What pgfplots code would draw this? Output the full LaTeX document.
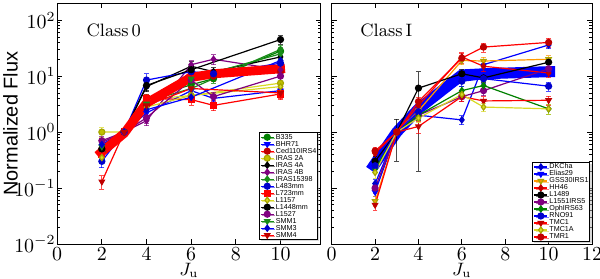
\documentclass[border=0pt]{standalone}
\usepackage{fontspec}
\usepackage{pgfplots}
\pgfplotsset{compat=1.18}
\usetikzlibrary{shadows}
\newfontfamily\helv{Liberation Sans}
\definecolor{dkgreen}{rgb}{0,0.5,0}
\definecolor{mgreen}{rgb}{0.1,0.55,0.1}
\definecolor{mpurple}{rgb}{0.5,0,0.5}
\definecolor{myellow}{rgb}{0.85,0.85,0.15}
\definecolor{olive}{rgb}{0.65,0.65,0}
\definecolor{dred}{rgb}{0.75,0,0}
\definecolor{morange}{rgb}{1,0.6,0}
\definecolor{dblue}{rgb}{0,0,0.8}

\pgfplotsset{
 mysrc/.style={/tikz/line width=0.6bp, /tikz/mark size=1.5bp,
   /pgfplots/error bars/y dir=both, /pgfplots/error bars/y explicit,
   /pgfplots/error bars/error bar style={line width=0.45bp, draw opacity=0.7},
   /pgfplots/error bars/error mark options={rotate=90, mark size=1.2bp, line width=0.45bp}},
}

\begin{document}
\begin{tikzpicture}
\useasboundingbox (0,0) rectangle (300bp,139.5bp);
% ---------------- Class 0 ----------------
\begin{axis}[scale only axis, height=120.35bp, ymode=log, ymin=0.01, ymax=200,
   xmin=0, xtick={0,2,...,12},
   tick label style={font=\fontsize{10}{12}\selectfont},
   xticklabel style={inner ysep=1.5bp},
   major tick length=2.5bp, minor tick length=1.3bp,
   axis line style={line width=0.5bp}, tick style={line width=0.4bp, black},
   yticklabel style={inner xsep=0.6bp},
   xlabel={$J_\mathrm{u}$},
   xlabel style={at={(axis description cs:0.5,-0.078)}, anchor=north, inner sep=0pt, font=\fontsize{9}{11}\selectfont},
   legend image code/.code={\draw[mark repeat=2,mark phase=2,#1] plot coordinates {(0bp,0bp) (3.3bp,0bp) (6.6bp,0bp)};},
   legend cell align=left,
   legend style={at={(1,0)}, anchor=south east, draw=black, line width=0.5bp, fill=white,
     inner sep=0.5bp, font=\helv\fontsize{3.6}{3.6}\selectfont,
     nodes={inner sep=0.2bp, text height=2.5bp, text depth=0.6bp},
     row sep=0pt, column sep=0.5bp, xshift=-1.2bp, yshift=1.9bp,
     drop shadow={shadow xshift=0.8bp, shadow yshift=-0.8bp, fill=black!30}},
  at={(28.6bp,17.5bp)}, anchor=south west, width=131.75bp, xmax=11.8,
  ylabel={Normalized Flux},
  ylabel style={at={(axis description cs:-0.177,0.5)}, anchor=center, font=\helv\fontsize{10}{12}\selectfont}]
\addplot[mysrc, dkgreen, mark=*] coordinates {(2,0.45)+-(0,0.08) (3,1)+-(0,0.1) (4,4.0)+-(0,0.7) (6,7.0)+-(0,1.2) (7,9)+-(0,1.5) (10,28)+-(0,5)};
\addlegendentry{B335}
\addplot[mysrc, blue, mark=triangle*, mark options={rotate=180}] coordinates {(2,0.55)+-(0,0.1) (3,1)+-(0,0.1) (4,2.2)+-(0,0.4) (6,5.5)+-(0,1) (7,4.0)+-(0,0.7) (10,5.5)+-(0,1)};
\addlegendentry{BHR71}
\addplot[mysrc, red, mark=*, mark options={fill=dred, draw=dred}] coordinates {(2,0.5)+-(0,0.1) (3,1)+-(0,0.1) (4,3.0)+-(0,0.5) (6,12)+-(0,2) (7,10)+-(0,2) (10,12)+-(0,2.5)};
\addlegendentry{Ced110IRS4}
\addplot[mysrc, myellow, mark=*, mark options={fill=olive!70!yellow, draw=olive}] coordinates {(2,1.0)+-(0,0.2) (3,1)+-(0,0.1) (4,3.8)+-(0,0.6) (6,4.5)+-(0,0.8) (10,7.5)+-(0,1.5)};
\addlegendentry{IRAS 2A}
\addplot[mysrc, black, mark=diamond*] coordinates {(2,0.4)+-(0,0.08) (3,1)+-(0,0.1) (4,6.5)+-(0,1.2) (6,15)+-(0,3) (7,12)+-(0,2) (10,22)+-(0,4)};
\addlegendentry{IRAS 4A}
\addplot[mysrc, mpurple, mark=diamond*] coordinates {(2,0.65)+-(0,0.1) (3,1)+-(0,0.1) (4,1.6)+-(0,0.3) (6,16)+-(0,3) (7,20)+-(0,4) (10,13)+-(0,3)};
\addlegendentry{IRAS 4B}
\addplot[mysrc, mgreen, mark=diamond*] coordinates {(2,0.38)+-(0,0.07) (3,1)+-(0,0.1) (4,3.5)+-(0,0.6) (6,6.0)+-(0,1) (10,30)+-(0,5)};
\addlegendentry{IRAS15398}
\addplot[mysrc, blue, mark=*, mark options={fill=dblue, draw=dblue}] coordinates {(2,0.3)+-(0,0.07) (3,1)+-(0,0.1) (4,8.5)+-(0,2.5) (6,12)+-(0,2) (7,11)+-(0,2) (10,17)+-(0,3)};
\addlegendentry{L483mm}
\addplot[mysrc, red, mark=square*, mark size=1.5bp] coordinates {(2,0.4)+-(0,0.08) (3,1)+-(0,0.1) (4,4.0)+-(0,0.7) (6,3.8)+-(0,0.8) (7,3.0)+-(0,0.6) (10,4.8)+-(0,1)};
\addlegendentry{L723mm}
\addplot[mysrc, myellow, mark=diamond*, mark options={fill=myellow, draw=olive}] coordinates {(2,0.35)+-(0,0.06) (3,1)+-(0,0.1) (4,2.8)+-(0,0.5) (6,4.5)+-(0,0.8) (10,6.5)+-(0,1.2)};
\addlegendentry{L1157}
\addplot[mysrc, black, mark=*] coordinates {(2,0.5)+-(0,0.1) (3,1)+-(0,0.1) (4,6.8)+-(0,1.2) (6,13)+-(0,2.5) (10,45)+-(0,8)};
\addlegendentry{L1448mm}
\addplot[mysrc, mpurple, mark=*] coordinates {(2,0.7)+-(0,0.12) (3,1)+-(0,0.1) (4,1.8)+-(0,0.4) (6,8.5)+-(0,1.5) (7,4.3)+-(0,0.8) (10,10)+-(0,2)};
\addlegendentry{L1527}
\addplot[mysrc, mgreen, mark=triangle*, mark options={rotate=180}] coordinates {(2,0.55)+-(0,0.1) (3,1)+-(0,0.1) (4,3.2)+-(0,0.6) (6,9)+-(0,1.5) (10,25)+-(0,4)};
\addlegendentry{SMM1}
\addplot[mysrc, blue, mark=diamond*, mark options={fill=dblue, draw=dblue}] coordinates {(2,0.6)+-(0,0.1) (3,1)+-(0,0.1) (4,2.5)+-(0,0.5) (6,4.2)+-(0,0.8) (10,19)+-(0,3)};
\addlegendentry{SMM3}
\addplot[mysrc, red, mark=triangle*, mark options={rotate=180, fill=dred, draw=dred}] coordinates {(2,0.13)+-(0,0.035) (3,1)+-(0,0.1) (4,3.0)+-(0,0.5) (6,6.0)+-(0,1) (10,5.0)+-(0,1)};
\addlegendentry{SMM4}
\addplot[red, line width=4.5bp, line join=round, forget plot] coordinates {(1.8,0.38) (3,0.95) (4,3.3) (6,9.5) (7,11) (10,13.5) (10.2,13.7)};
\node[anchor=west, font=\fontsize{9}{10}\selectfont] at (axis cs:1.0,65) {Class\,0};
\end{axis}
% ---------------- Class I ----------------
\begin{axis}[scale only axis, height=120.35bp, ymode=log, ymin=0.01, ymax=200,
   xmin=0, xtick={0,2,...,12},
   tick label style={font=\fontsize{10}{12}\selectfont},
   xticklabel style={inner ysep=1.5bp},
   major tick length=2.5bp, minor tick length=1.3bp,
   axis line style={line width=0.5bp}, tick style={line width=0.4bp, black},
   xlabel={$J_\mathrm{u}$},
   xlabel style={at={(axis description cs:0.5,-0.078)}, anchor=north, inner sep=0pt, font=\fontsize{9}{11}\selectfont},
   legend image code/.code={\draw[mark repeat=2,mark phase=2,#1] plot coordinates {(0bp,0bp) (3.3bp,0bp) (6.6bp,0bp)};},
   legend cell align=left,
   legend style={at={(1,0)}, anchor=south east, draw=black, line width=0.5bp, fill=white,
     inner sep=0.5bp, font=\helv\fontsize{3.6}{3.6}\selectfont,
     nodes={inner sep=0.2bp, text height=2.5bp, text depth=0.6bp},
     row sep=0pt, column sep=0.5bp, xshift=-0.8bp, yshift=1.0bp,
     drop shadow={shadow xshift=0.8bp, shadow yshift=-0.8bp, fill=black!30}},
  at={(165.85bp,17.5bp)}, anchor=south west, width=130.15bp, xmax=12,
  yticklabels={}]
\addplot[blue, line width=5.5bp, line join=round, forget plot] coordinates {(1.8,0.21) (3,1) (4,2.6) (6,10.5) (7,11) (10,12) (10.3,12)};
\addplot[mysrc, blue, mark=diamond*, mark options={fill=dblue, draw=dblue}] coordinates {(2,0.12)+-(0,0.02) (3,1)+-(0,0.1) (4,2.0)+-(0,0.3) (6,1.65)+-(0,0.3) (7,16)+-(0,3) (10,36)+-(0,5)};
\addlegendentry{DKCha}
\addplot[mysrc, blue, mark=triangle*, mark options={rotate=180}] coordinates {(2,0.085)+-(0,0.015) (3,1)+-(0,0.1) (4,2.2)+-(0,0.4) (6,9)+-(0,1.5) (7,10)+-(0,1.5) (10,12)+-(0,2)};
\addlegendentry{Elias29}
\addplot[mysrc, morange, mark=triangle*, mark options={rotate=180, fill=morange, draw=olive}] coordinates {(2,0.058)+-(0,0.012) (3,1)+-(0,0.1) (4,2.4)+-(0,0.4) (6,19)+-(0,3) (7,18.6)+-(0,3) (10,20)+-(0,3)};
\addlegendentry{GSS30IRS1}
\addplot[mysrc, red, mark=diamond*, mark options={fill=dred, draw=dred}] coordinates {(2,0.42)+-(0,0.08) (3,1)+-(0,0.1) (4,3.0)+-(0,0.5) (6,22)+-(0,4) (7,15)+-(0,3) (10,11.4)+-(0,2)};
\addlegendentry{HH46}
\addplot[mysrc, black, mark=*] coordinates {(2,0.30)+-(0,0.06) (3,1)+-(0,0.7) (4,6.1)+-(0,5.9) (6,11)+-(0,2) (7,9.3)+-(0,1.5) (10,17.7)+-(0,3)};
\addlegendentry{L1489}
\addplot[mysrc, mpurple, mark=*] coordinates {(2,0.10)+-(0,0.02) (3,1)+-(0,0.1) (4,2.0)+-(0,0.4) (6,4.3)+-(0,0.8) (7,5.5)+-(0,1) (10,13.5)+-(0,2.5)};
\addlegendentry{L1551IRS5}
\addplot[mysrc, dkgreen, mark=diamond*] coordinates {(2,0.22)+-(0,0.04) (3,1)+-(0,0.1) (4,2.0)+-(0,0.4) (6,5.5)+-(0,1) (7,6.8)+-(0,1.2) (10,2.6)+-(0,0.5)};
\addlegendentry{OphIRS63}
\addplot[mysrc, blue, mark=*, mark options={fill=dblue, draw=dblue}] coordinates {(2,0.25)+-(0,0.05) (3,1)+-(0,0.1) (4,2.3)+-(0,0.4) (6,8.1)+-(0,1.5) (7,9)+-(0,1.5) (10,6.6)+-(0,1.2)};
\addlegendentry{RNO91}
\addplot[mysrc, red, mark=triangle*, mark options={rotate=180, fill=dred, draw=dred}] coordinates {(2,0.05)+-(0,0.01) (3,1)+-(0,0.1) (4,1.26)+-(0,0.3) (6,4.3)+-(0,0.8) (7,3.6)+-(0,0.7) (10,3.7)+-(0,0.7)};
\addlegendentry{TMC1}
\addplot[mysrc, myellow, mark=diamond*, mark options={fill=myellow, draw=olive}] coordinates {(2,0.19)+-(0,0.04) (3,1)+-(0,0.1) (4,1.78)+-(0,0.3) (6,4.7)+-(0,0.8) (7,2.8)+-(0,0.5) (10,2.6)+-(0,0.5)};
\addlegendentry{TMC1A}
\addplot[mysrc, red, mark=*, mark options={fill=dred, draw=dred}] coordinates {(2,0.46)+-(0,0.08) (3,1)+-(0,0.1) (4,3.5)+-(0,0.6) (6,21)+-(0,4) (7,33)+-(0,6) (10,40)+-(0,7)};
\addlegendentry{TMR1}
\node[anchor=west, font=\fontsize{9}{10}\selectfont] at (axis cs:1.0,65) {Class\,I};
\end{axis}
\end{tikzpicture}
\end{document}
